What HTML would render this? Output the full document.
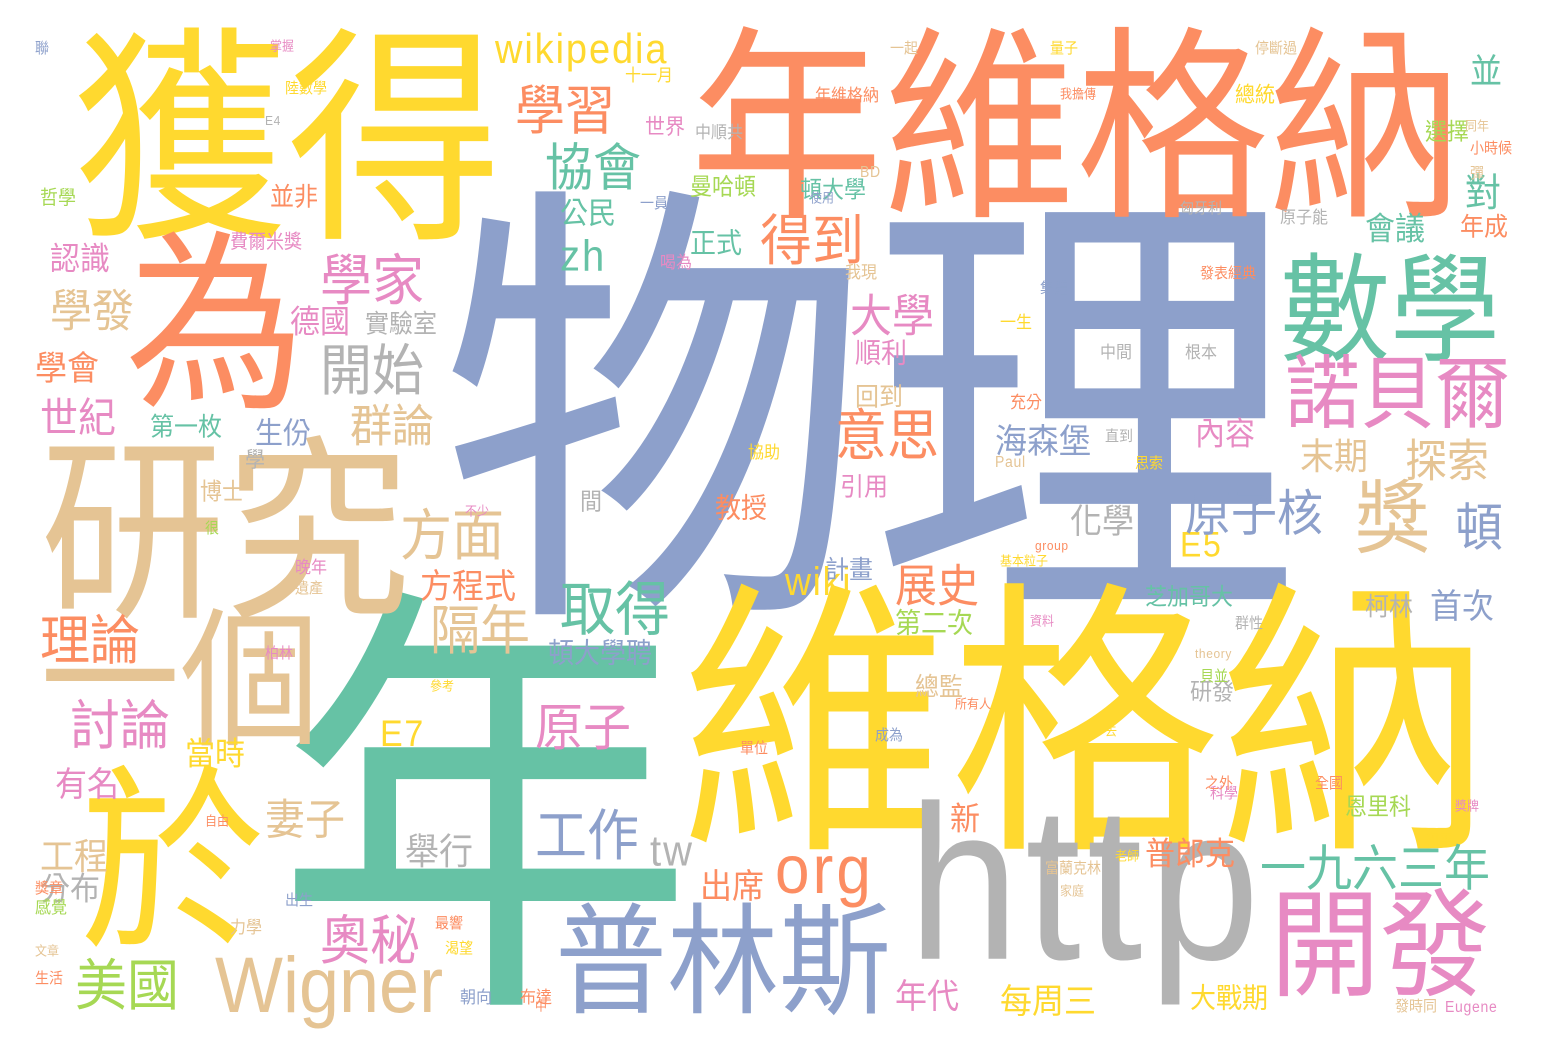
<!DOCTYPE html>
<html><head><meta charset="utf-8">
<style>
html,body{margin:0;padding:0;background:#fff;}
#cloud{position:relative;width:1548px;height:1052px;overflow:hidden;background:#fff;}
.w{position:absolute;white-space:nowrap;line-height:1;font-family:"Liberation Sans","Noto Sans CJK TC",sans-serif;transform-origin:0 0;}
</style></head>
<body>
<div id="cloud"></div>
<script>
const G="#66c2a5",O="#fc8d62",B="#8da0cb",P="#e78ac3",L="#a6d854",Y="#ffd92f",T="#e5c494",R="#b3b3b3";
const words=["物理","年","維格納","年維格納","獲得","為","研究","一個","於","http","普林斯","開發","數學","諾貝爾","Wigner","wikipedia","學習","協會","zh","公民","得到","學家","學發","開始","群論","世紀","認識","學會","德國","實驗室","費爾米獎","方面","方程式","隔年","取得","頓大學聘","原子","工作","tw","org","出席","年代","每周三","大戰期","奧秘","美國","妻子","舉行","分布","工程","有名","當時","討論","理論","E7","大學","順利","意思","引用","展史","wiki","E5","原子核","獎","頓","末期","探索","一九六三年","普郎克","首次","柯林","芝加哥大","內容","化學","海森堡","會議","對","年成","並","新","曼哈頓","頓大學","正式","世界","第一枚","生份","並非","哲學","教授","計畫","第二次","總監","回到","研發","恩里科","十一月","年維格納","中順共","原子能","我現","發表經典","一生","中間","根本","間","協助","充分","直到","Paul","思索","資料","群性","theory","貝並","遺產","晚年","很","學","博士","自由","文章","生活","獎章","感覺","力學","出生","最響","渴望","朝向","布達","中","發時同","Eugene","老師","家庭","富蘭克林","科學","之外","去","成為","所有人","一起","停斷過","總統","選擇","同年","彈","小時候","掌握","E4","聯","陸數學","量子","我擔傳","BD","使用","匈牙利","集體","group","基本粒子","獎牌","和平","全國","單位","參考","不少","一員","喝為","柏林","作為","輕人","樹為","榮譽"];
const xs=[440,275,680,690,72,125,40,40,80,908,555,1270,1280,1285,215,495,515,545,560,560,760,320,50,320,350,40,50,35,290,365,230,400,420,430,560,548,535,535,650,775,700,895,1000,1190,320,75,265,405,40,40,55,185,70,40,380,850,855,835,840,895,785,1180,1185,1355,1455,1300,1405,1260,1145,1430,1365,1145,1195,1070,995,1365,1465,1460,1470,950,690,800,690,645,150,255,270,40,715,825,895,915,855,1190,1345,625,815,695,1280,845,1200,1000,1100,1185,580,748,1010,1105,995,1135,1030,1235,1195,1200,295,295,205,245,200,205,35,35,35,35,230,285,435,445,460,520,535,1395,1445,1115,1060,1045,1210,1205,1105,875,955,890,1255,1235,1425,1465,1470,1470,270,265,35,285,1050,1060,860,810,1180,1040,1035,1000,1455,1425,1315,740,430,465,640,660,265,355,895,305];
const ys=[198,598,588,30,30,235,440,610,770,790,905,890,255,355,952,32,85,145,237,200,215,255,290,345,405,400,245,352,308,312,232,510,570,605,582,640,705,810,832,842,870,980,985,985,915,960,800,835,875,840,768,740,700,615,718,295,340,410,475,565,565,530,490,480,505,440,440,845,840,590,595,585,420,505,425,215,175,215,55,805,175,178,230,117,415,420,185,188,495,558,610,675,385,680,795,68,88,125,210,265,265,315,345,345,490,445,395,428,455,455,615,615,648,668,580,560,520,450,480,815,945,970,880,900,920,892,915,940,990,990,1000,998,1000,850,885,860,785,775,725,727,698,40,40,85,120,120,165,140,40,115,40,80,40,88,165,192,200,280,540,555,800,832,775,740,680,505,195,255,645];
const sizes=[430,420,270,193,215,180,185,140,185,200,112,110,110,75,72,38,50,48,40,28,52,52,42,52,42,38,30,32,30,24,18,52,32,50,55,26,48,52,40,62,32,32,32,26,50,52,40,34,30,34,32,30,50,50,34,42,26,52,24,42,36,32,46,75,48,34,42,46,30,32,24,22,30,32,32,30,36,24,32,30,22,22,26,20,24,28,24,18,26,24,26,24,24,22,22,16,16,16,16,16,14,16,16,16,22,16,16,14,14,14,12,14,12,14,14,16,14,20,22,12,12,14,14,16,16,14,14,14,16,16,12,14,14,12,12,14,14,14,12,14,12,14,14,20,22,12,14,14,12,12,14,14,14,12,14,12,14,14,12,12,12,14,14,14,12,12,14,16,14];
const colors=[B,G,Y,O,Y,O,T,T,Y,R,B,P,G,P,T,Y,O,G,G,G,O,P,T,R,T,P,P,O,P,R,P,T,O,T,G,B,P,B,R,O,O,P,Y,Y,P,L,T,R,R,T,P,Y,P,O,Y,P,P,O,P,O,Y,Y,B,T,B,T,T,G,O,B,R,G,P,R,B,G,G,O,G,O,L,G,G,P,G,B,O,L,O,B,L,T,T,R,L,Y,O,R,R,T,O,Y,R,R,R,Y,O,R,T,Y,P,R,T,L,T,P,L,R,T,O,T,O,O,L,T,B,O,Y,B,O,O,T,P,Y,T,T,P,O,Y,B,O,T,T,Y,L,T,T,O,P,R,B,Y,Y,O,T,B,R,B,O,Y,P,Y,O,O,Y,P,B,P,P,R,B,T];
const cloud=document.getElementById('cloud');
for(let i=0;i<words.length;i++){
  if(ys[i]===undefined||xs[i]===undefined||sizes[i]===undefined) continue;
  const d=document.createElement('div');
  d.className='w';
  d.textContent=words[i];
  const s=sizes[i];
  const latin=/^[A-Za-z0-9]+$/.test(words[i]);
  d.style.left=xs[i]+'px';
  d.style.top=(latin?ys[i]-0.08*s:ys[i]-0.02*s)+'px';
  d.style.fontSize=s+'px';
  d.style.color=colors[i]||R;
  if(latin){
    d.style.letterSpacing=(words[i]==='http'?0.03*s:(words[i]==='Wigner'?0:0.05*s))+'px';
    d.style.transform='scaleY(1.1)';
  } else {
    d.style.transform='scaleY(1.07)';
  }
  
  
  cloud.appendChild(d);
}
</script>
</body></html>
